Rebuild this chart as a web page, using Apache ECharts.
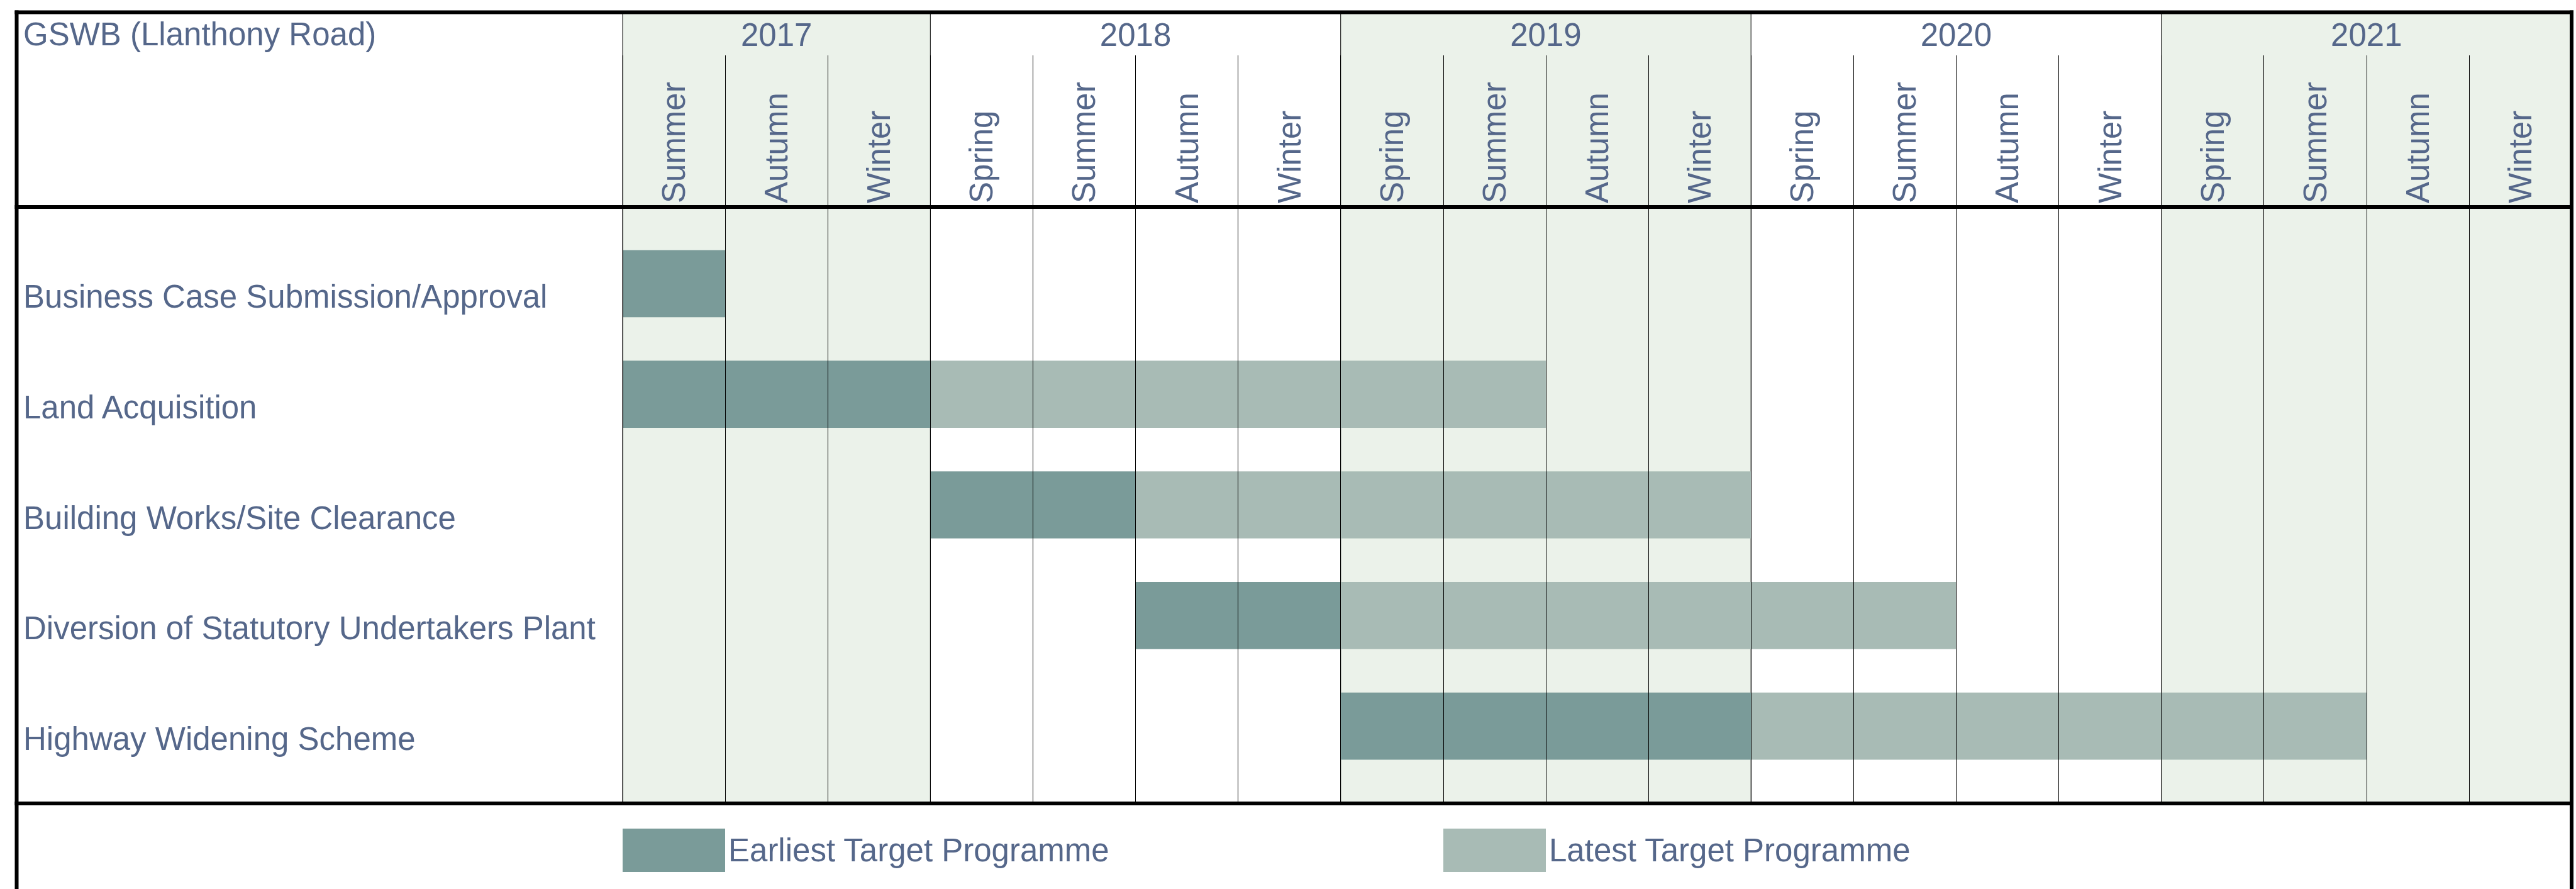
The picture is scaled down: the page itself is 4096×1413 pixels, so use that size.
<!DOCTYPE html>
<html>
<head>
<meta charset="utf-8">
<title>GSWB (Llanthony Road)</title>
<script src="https://cdn.jsdelivr.net/npm/echarts@6/dist/echarts.min.js"></script>
<style>
  html, body { margin: 0; padding: 0; background: #fff; }
  #main { width: 4096px; height: 1413px; }
</style>
</head>
<body>
<div id="main"></div>
<script>
// 表头数据
var years = ['2017', '2018', '2019', '2020', '2021'];
var yearStart = [0, 3, 7, 11, 15];
var yearEnd = [3, 7, 11, 15, 19];
var yearShaded = [1, 0, 1, 0, 1];
var seasons = ['Summer', 'Autumn', 'Winter',
    'Spring', 'Summer', 'Autumn', 'Winter',
    'Spring', 'Summer', 'Autumn', 'Winter',
    'Spring', 'Summer', 'Autumn', 'Winter',
    'Spring', 'Summer', 'Autumn', 'Winter'];

// 任务数据 (单位: 季度序号)
var tasks = ['Business Case Submission/Approval', 'Land Acquisition', 'Building Works/Site Clearance',
    'Diversion of Statutory Undertakers Plant', 'Highway Widening Scheme'];
var earliestStart = [0, 0, 3, 5, 7];
var earliestEnd = [1, 3, 5, 7, 11];
var latestStart = [null, 3, 5, 7, 11];
var latestEnd = [null, 9, 11, 13, 17];

var textColor = '#55678a';
var greenBg = '#ebf2ea';
var darkBar = '#7a9b99';
var lightBar = '#a8bbb5';
var fontFamily = '"Liberation Sans", Arial, Helvetica, sans-serif';
var fs = 51;

var gridLeft = 990;
var gridWidth = 3099;

function renderBar(params, api) {
    var row = api.value(0);
    var p0 = api.coord([api.value(1), row]);
    var p1 = api.coord([api.value(2), row]);
    var h = api.size([0, 1])[1] * 0.607;
    return {
        type: 'rect',
        shape: { x: p0[0], y: p0[1] - h / 2, width: p1[0] - p0[0], height: h },
        style: api.style()
    };
}

function renderYear(params, api) {
    var p0 = api.coord([api.value(0), 1]);
    var p1 = api.coord([api.value(1), 0]);
    var i = params.dataIndex;
    return {
        type: 'group',
        children: [
            {
                type: 'rect',
                shape: { x: p0[0], y: p0[1], width: p1[0] - p0[0], height: p1[1] - p0[1] },
                style: { fill: yearShaded[i] ? greenBg : 'rgba(0,0,0,0)' }
            },
            {
                type: 'line',
                shape: { x1: p0[0], y1: p0[1], x2: p0[0], y2: p1[1] },
                style: { stroke: '#000', lineWidth: 1 }
            },
            {
                type: 'text',
                x: (p0[0] + p1[0]) / 2,
                y: p0[1] + 33,
                style: {
                    text: years[i], fill: textColor, align: 'center', verticalAlign: 'middle',
                    font: fs + 'px ' + fontFamily
                }
            }
        ]
    };
}

var earliestData = [];
var latestData = [];
for (var i = 0; i < tasks.length; i++) {
    earliestData.push([i, earliestStart[i], earliestEnd[i]]);
    if (latestStart[i] != null) {
        latestData.push([i, latestStart[i], latestEnd[i]]);
    }
}
var yearData = [];
for (var j = 0; j < years.length; j++) {
    yearData.push([yearStart[j], yearEnd[j]]);
}

var option = {
    animation: false,
    backgroundColor: '#fff',
    textStyle: { fontFamily: fontFamily },
    title: {
        text: 'GSWB (Llanthony Road)',
        left: 37, top: 29, padding: 0,
        textStyle: { color: textColor, fontSize: fs, fontWeight: 'normal', fontFamily: fontFamily }
    },
    legend: [
        {
            data: ['Earliest Target Programme'],
            left: gridLeft, top: 1317, padding: 0,
            itemWidth: 163, itemHeight: 69, icon: 'rect',
            textStyle: { color: textColor, fontSize: fs, fontFamily: fontFamily }
        },
        {
            data: ['Latest Target Programme'],
            left: 2295, top: 1317, padding: 0,
            itemWidth: 163, itemHeight: 69, icon: 'rect',
            textStyle: { color: textColor, fontSize: fs, fontFamily: fontFamily }
        }
    ],
    grid: [
        // 背景 + 年份
        { left: gridLeft, width: gridWidth, top: 22, height: 1255 },
        // 季度竖线
        { left: gridLeft, width: gridWidth, top: 88, height: 1189 },
        // 季度表头
        { left: gridLeft, width: gridWidth, top: 88, height: 241 },
        // 甘特条
        { left: gridLeft, width: gridWidth, top: 363, height: 879 }
    ],
    xAxis: [
        { gridIndex: 0, type: 'value', min: 0, max: 19, show: false },
        {
            gridIndex: 1, type: 'value', min: 0, max: 19, interval: 1, z: 10,
            axisLine: { show: false }, axisTick: { show: false }, axisLabel: { show: false },
            splitLine: { show: true, lineStyle: { color: '#000', width: 1 } }
        },
        {
            gridIndex: 2, type: 'category', data: seasons, position: 'bottom', z: 5,
            axisLine: { show: false }, axisTick: { show: false }, splitLine: { show: false },
            axisLabel: {
                inside: true, rotate: 90, interval: 0, margin: 6,
                color: textColor, fontSize: fs, fontFamily: fontFamily
            }
        },
        { gridIndex: 3, type: 'value', min: 0, max: 19, show: false }
    ],
    yAxis: [
        { gridIndex: 0, type: 'value', min: 0, max: 1, show: false },
        { gridIndex: 1, type: 'value', min: 0, max: 1, show: false },
        { gridIndex: 2, type: 'value', min: 0, max: 1, show: false },
        {
            gridIndex: 3, type: 'category', data: tasks, inverse: true,
            axisLine: { show: false }, axisTick: { show: false }, splitLine: { show: false },
            axisLabel: {
                align: 'left', verticalAlign: 'top', lineHeight: 41, margin: gridLeft - 37,
                color: textColor, fontSize: fs, fontFamily: fontFamily
            }
        }
    ],
    series: [
        {
            name: 'years', type: 'custom', xAxisIndex: 0, yAxisIndex: 0, z: 0,
            renderItem: renderYear, encode: { x: [0, 1] }, data: yearData, silent: true
        },
        {
            name: 'Earliest Target Programme', type: 'custom', xAxisIndex: 3, yAxisIndex: 3, z: 2,
            renderItem: renderBar, encode: { y: 0, x: [1, 2] },
            itemStyle: { color: darkBar }, data: earliestData
        },
        {
            name: 'Latest Target Programme', type: 'custom', xAxisIndex: 3, yAxisIndex: 3, z: 2,
            renderItem: renderBar, encode: { y: 0, x: [1, 2] },
            itemStyle: { color: lightBar }, data: latestData
        }
    ],
    // 外框粗线
    graphic: [
        { type: 'line', z: 100, shape: { x1: 23.5, y1: 19.5, x2: 4092, y2: 19.5 }, style: { stroke: '#000', lineWidth: 6 } },
        { type: 'line', z: 100, shape: { x1: 26.5, y1: 16.5, x2: 26.5, y2: 1413 }, style: { stroke: '#000', lineWidth: 6 } },
        { type: 'line', z: 100, shape: { x1: 4089, y1: 16.5, x2: 4089, y2: 1413 }, style: { stroke: '#000', lineWidth: 6 } },
        { type: 'line', z: 100, shape: { x1: 23.5, y1: 329, x2: 4092, y2: 329 }, style: { stroke: '#000', lineWidth: 6 } },
        { type: 'line', z: 100, shape: { x1: 23.5, y1: 1277, x2: 4092, y2: 1277 }, style: { stroke: '#000', lineWidth: 6 } }
    ]
};

var chart = echarts.init(document.getElementById('main'), null, { renderer: 'svg' });
chart.setOption(option);
</script>
</body>
</html>
